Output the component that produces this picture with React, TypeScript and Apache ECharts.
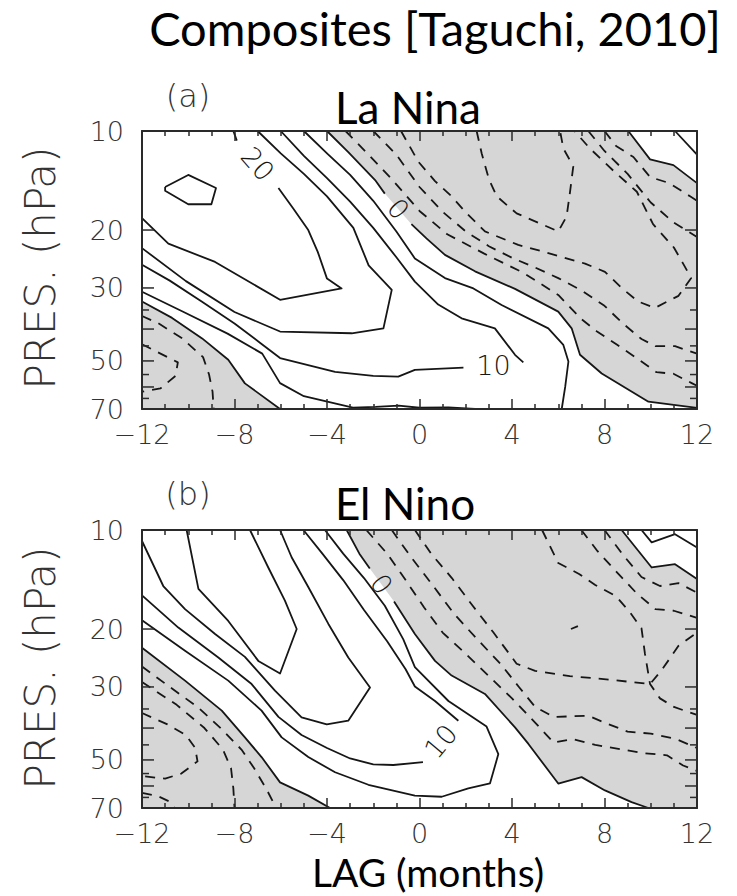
import React, { useEffect, useRef } from "react";
import * as echarts from "echarts";

// Every point is [lag in months, pressure in hPa].
type Pt = [number, number];

const LAG_MIN = -12;
const LAG_MAX = 12;
const LAG_STEP = 4;
const P_TOP = 10;
const P_BOTTOM = 70;

const PRESSURE_LABELS = [10, 20, 30, 50, 70];
const PRESSURE_TICKS_MAJOR = [20, 30, 40, 50, 60];
const PRESSURE_TICKS_MINOR = [35, 45, 55, 65];

// ---------- (a) La Nina: zonal-wind contours, interval 5 m/s ----------
const laNinaW25: Pt[] = [[-11.0, 14.8], [-10.0, 13.6], [-8.8, 14.9], [-9.0, 16.7], [-10.0, 16.7], [-11.0, 15.2], [-11.0, 14.8]];
const laNinaW20Stub: Pt[] = [[-8.05, 10], [-7.9, 10.7]];
const laNinaW20: Pt[] = [[-6.1, 14.9], [-5.46, 17.2], [-4.81, 20.0], [-4.4, 23.3], [-4.0, 28.1], [-3.37, 30.1], [-6.03, 32.6], [-8.84, 25.0], [-10.86, 22.0], [-12, 18.4]];
const laNinaW15: Pt[] = [[-7.0, 10], [-6.0, 11.7], [-5.0, 13.5], [-4.0, 15.8], [-2.86, 19.7], [-2.2, 25.6], [-1.2, 30.4], [-1.56, 39.8], [-2.93, 41.2], [-6.03, 40.7], [-8.0, 35.5], [-10.1, 28.6], [-12, 22.7]];
const laNinaW10Upper: Pt[] = [[-6.0, 10], [-5.0, 11.9], [-4.0, 13.9], [-3.0, 16.4], [-2.0, 19.7], [-1.0, 24.2], [-0.2, 28.7], [0.81, 33.7], [1.82, 37.1], [3.26, 39.8], [4.13, 47.9], [4.49, 50.5]];
const laNinaW10Lower: Pt[] = [[1.9, 52.4], [-0.2, 53.2], [-0.92, 55.8], [-2.0, 55.5], [-3.65, 54.0], [-6.03, 49.0], [-6.9, 44.0], [-8.0, 38.5], [-9.42, 33.0], [-10.8, 28.5], [-12, 25.5]];
const laNinaW5Upper: Pt[] = [[-5.0, 10], [-4.0, 11.7], [-3.0, 13.6], [-2.0, 16.3], [-1.0, 20.2], [-0.2, 24.4], [1.1, 28.0], [2.33, 30.1], [3.55, 33.8], [5.57, 39.8], [6.22, 44.7], [6.44, 50.2], [6.3, 60.0], [6.15, 70]];
const laNinaW5Lower: Pt[] = [[-12, 30.8], [-10.2, 35.5], [-8.3, 41.3], [-6.8, 47.5], [-6.03, 58.4], [-5.0, 64.0], [-2.88, 69.3], [-1.9, 69.0], [-0.9, 68.4], [0.0, 69.4], [1.25, 69.2], [2.4, 70]];
const laNinaW5Corner: Pt[] = [[11.05, 10], [12, 11.8]];
const laNinaZeroUpper: Pt[] = [[-4.0, 10], [-3.08, 11.6], [-1.92, 14.1], [-1.5, 15.5], [-0.35, 19.2], [0.3, 21.2], [1.1, 23.8], [2.4, 26.7], [4.13, 30.2], [6.0, 35.4], [6.58, 39.8], [6.94, 47.9], [7.88, 54.6], [9.9, 66.5], [12, 69.5]];
const laNinaZeroLower: Pt[] = [[-12, 33.0], [-10.7, 37.0], [-9.4, 42.7], [-8.27, 49.6], [-7.55, 58.5], [-6.03, 70]];
const laNinaZeroCorner: Pt[] = [[9.03, 10], [9.97, 12.2], [10.98, 12.7], [12, 14.4]];

const laNinaE5: Pt[] = [[-3.2, 10], [-2.2, 11.8], [-1.2, 14.0], [0.0, 17.5], [1.2, 20.6], [2.8, 23.6], [4.5, 27.0], [6.0, 31.5], [7.0, 37.3], [7.66, 40.6], [8.53, 44.6], [9.39, 49.0], [10.25, 54.1], [10.98, 54.7], [11.77, 58.4], [12, 59.5]];
const laNinaE10: Pt[] = [[-2.0, 10], [-1.0, 11.8], [0, 14.8], [1, 17.6], [2, 20.2], [3, 22.4], [4, 24.3], [5, 26.0], [6, 28.0], [7, 30.5], [8, 34.0], [8.8, 38.5], [9.6, 42.9], [10.2, 45.1], [11.05, 45.1], [12, 47.5]];
const laNinaE15: Pt[] = [[-0.8, 10], [-0.05, 12.4], [0.67, 14.2], [1.39, 15.8], [2.04, 17.8], [2.83, 20.2], [4.27, 22.2], [5.28, 23.2], [7.16, 25.3], [8.02, 26.8], [8.74, 30.0], [9.46, 33.0], [10.18, 34.5], [11.2, 31.7], [11.75, 28.0], [11.4, 25.3], [11.0, 22.6], [10.1, 19.2], [9.4, 15.3], [8.38, 13.2], [7.37, 11.3], [6.7, 10]];
const laNinaE20: Pt[] = [[2.47, 10], [2.69, 11.7], [3.0, 14.0], [3.34, 15.8], [4.2, 17.8], [5.21, 19.1], [6.0, 20.2], [6.36, 18.2], [6.5, 15.5], [6.65, 12.8], [6.22, 11.3], [6.08, 10]];
const laNinaE10Corner: Pt[] = [[7.3, 10], [8.0, 11.5], [9.0, 13.5], [10.0, 16.5], [11, 19.0], [12, 21.0]];
const laNinaE5Corner: Pt[] = [[8.0, 10], [8.5, 11.1], [9.25, 12.0], [9.97, 13.8], [10.8, 14.4], [11.7, 15.8], [12, 16.3]];
const laNinaE5Low: Pt[] = [[-12, 36.5], [-11.3, 38.4], [-10.3, 42.5], [-9.36, 48.7], [-9.1, 55.0], [-8.95, 62.0], [-8.9, 70]];
const laNinaE10Low: Pt[] = [[-12, 44.5], [-11.2, 47.5], [-10.45, 50.5], [-10.55, 55.5], [-11.2, 60.6], [-12, 62.0]];

const laNinaLabels = [
  { text: "20", lag: -7.0, p: 12.6, angle: -49 },
  { text: "0", lag: -0.92, p: 17.25, angle: -49 },
  { text: "10", lag: 3.2, p: 51.5, angle: 0 },
];

// ---------- (b) El Nino ----------
const elNinoW20: Pt[] = [[-10.07, 10], [-9.56, 15.1], [-8.27, 18.9], [-6.97, 25.0], [-6.03, 27.3], [-5.31, 20.0], [-5.82, 16.4], [-6.54, 13.0], [-7.33, 10]];
const elNinoW15: Pt[] = [[-12, 10.8], [-11.08, 14.8], [-10.14, 17.4], [-8.84, 20.7], [-7.55, 24.3], [-6.25, 30.8], [-5.1, 37.1], [-4.01, 39.0], [-3.08, 38.0], [-2.14, 30.1], [-3.08, 24.4], [-3.94, 19.3], [-4.81, 14.9], [-5.53, 12.1], [-6.03, 10]];
const elNinoW10Upper: Pt[] = [[-5.02, 10], [-4.2, 11.8], [-3.3, 14.2], [-2.4, 17.5], [-1.4, 21.8], [-0.6, 26.5], [-0.2, 29.9], [0.67, 33.1], [1.68, 38.0]];
const elNinoW10Lower: Pt[] = [[0.15, 50.8], [-1.13, 51.8], [-2.0, 51.6], [-3.0, 49.5], [-4.0, 46.0], [-5.1, 42.0], [-6.1, 37.0], [-7.26, 29.4], [-8.7, 24.4], [-10.43, 19.8], [-12, 15.8]];
const elNinoW5: Pt[] = [[-4.09, 10], [-3.3, 11.8], [-2.4, 14.0], [-1.5, 17.0], [-0.7, 21.5], [-0.2, 26.1], [1.25, 33.1], [2.9, 39.6], [3.41, 48.0], [3.05, 58.9], [2.11, 61.0], [0.96, 64.7], [-0.2, 64.2], [-2.21, 59.5], [-3.65, 54.5], [-4.81, 49.0], [-5.96, 42.7], [-6.83, 35.4], [-8.27, 28.7], [-10.14, 23.3], [-12, 18.8]];
const elNinoW5Corner: Pt[] = [[9.6, 10], [10.04, 10.9], [11.05, 10.3], [12, 11.3]];
const elNinoZeroUpper: Pt[] = [[-3.15, 10], [-2.6, 11.8], [-2.15, 13.1], [-1.1, 16.5], [-0.2, 20.7], [0.67, 25.0], [1.39, 27.7], [2.83, 31.5], [4.13, 39.8], [4.71, 44.7], [6.0, 59.0], [7.01, 56.4], [8.02, 61.9], [9.17, 67.2], [9.9, 70]];
const elNinoZeroLower: Pt[] = [[-12, 22.8], [-10.14, 28.7], [-8.55, 35.4], [-7.55, 42.7], [-6.83, 49.0], [-6.03, 58.5], [-4.81, 64.2], [-3.87, 70]];
const elNinoZeroCorner: Pt[] = [[8.74, 10], [10.04, 13.0], [11.05, 12.7], [12, 14.1]];

const elNinoE5: Pt[] = [[-2.3, 10], [-1.4, 11.8], [-0.6, 14.2], [0.2, 17.2], [1.0, 20.5], [2.0, 23.8], [3.0, 27.8], [4.0, 32.5], [5.0, 38.5], [5.8, 44.3], [6.6, 43.2], [7.6, 45.0], [8.7, 46.4], [9.6, 47.6], [10.7, 48.4], [11.4, 52.0], [12, 54.0]];
const elNinoE10: Pt[] = [[-1.2, 10], [-0.4, 12.0], [0.5, 14.5], [1.5, 18.0], [2.5, 21.5], [3.5, 25.5], [4.3, 30.0], [5.0, 34.5], [5.8, 37.0], [7.3, 36.7], [8.0, 38.5], [9.0, 41.0], [10.0, 41.6], [11.1, 43.2], [12, 46.0]];
const elNinoE15West: Pt[] = [[-0.2, 10], [0.5, 11.8], [1.4, 14.0], [2.3, 17.0], [3.2, 20.5], [4.2, 25.5], [5.0, 26.8], [6.5, 27.8], [8.2, 28.5], [9.97, 29.4], [10.5, 26.5], [11.2, 22.5], [12, 20.5]];
const elNinoE15East: Pt[] = [[5.3, 10], [6.0, 12.6], [6.9, 13.6], [7.6, 14.7], [8.5, 15.9], [9.1, 17.8], [9.6, 19.9], [9.75, 23.8], [9.97, 29.4], [10.4, 32.5], [11.0, 34.5], [12, 36.5]];
const elNinoE10Corner: Pt[] = [[7.0, 10], [7.7, 11.6], [8.6, 13.6], [9.4, 15.6], [10.2, 17.4], [11.0, 17.6], [12, 18.5]];
const elNinoE5Corner: Pt[] = [[8.0, 10], [8.8, 11.9], [9.6, 13.9], [10.4, 14.8], [11.2, 14.5], [12, 15.5]];
const elNinoE20Spot: Pt[] = [[6.55, 20.0], [6.85, 19.6]];
const elNinoE5Low: Pt[] = [[-12, 26.0], [-10.8, 30.0], [-9.6, 34.5], [-8.6, 40.0], [-7.7, 46.5], [-7.15, 53.0], [-6.6, 61.7], [-6.2, 70]];
const elNinoE10Low: Pt[] = [[-12, 29.0], [-10.5, 34.0], [-9.3, 40.0], [-8.5, 46.5], [-8.15, 53.0], [-8.05, 61.0], [-8.0, 70]];
const elNinoE15Low: Pt[] = [[-12, 36.0], [-10.9, 39.0], [-10.1, 42.0], [-9.7, 46.0], [-9.6, 50.5], [-10.3, 55.0], [-11.0, 57.0], [-12, 56.0]];
const elNinoE10Corner2: Pt[] = [[-12, 63.0], [-11.3, 64.5], [-10.8, 67.0], [-10.6, 70]];

const elNinoLabels = [
  { text: "0", lag: -1.64, p: 14.6, angle: -54 },
  { text: "10", lag: 0.92, p: 43.9, angle: 50 },
];

// Easterly (negative) areas are shaded; their edges are the zero contours.
const laNinaEasterlyMain: Pt[] = [...laNinaZeroUpper, [12, 14.4], ...laNinaZeroCorner.slice(0, -1).reverse()];
const laNinaEasterlyLow: Pt[] = [...laNinaZeroLower, [-12, 70]];
const elNinoEasterlyMain: Pt[] = [...elNinoZeroUpper, [12, 70], [12, 14.1], ...elNinoZeroCorner.slice(0, -1).reverse()];
const elNinoEasterlyLow: Pt[] = [...elNinoZeroLower, [-12, 70]];

const INK = "#161616";
const FRAME = "#2a2a2a";
const SHADE = "#d6d6d6";
const THIN_FONT = "'DejaVu Sans', sans-serif";
const SLIDE_FONT = "Lato, 'Open Sans', sans-serif";

const panels = [
  {
    grid: { left: 142, top: 131, width: 555, height: 278 },
    fills: [laNinaEasterlyMain, laNinaEasterlyLow],
    solid: [
      laNinaW25, laNinaW20Stub, laNinaW20, laNinaW15, laNinaW10Upper, laNinaW10Lower,
      laNinaW5Upper, laNinaW5Lower, laNinaW5Corner,
      laNinaZeroUpper.slice(0, 4), laNinaZeroUpper.slice(4), laNinaZeroLower, laNinaZeroCorner,
    ],
    dashed: [laNinaE5, laNinaE10, laNinaE15, laNinaE20, laNinaE10Corner, laNinaE5Corner, laNinaE5Low, laNinaE10Low],
    labels: laNinaLabels,
  },
  {
    grid: { left: 142, top: 530, width: 555, height: 278 },
    fills: [elNinoEasterlyMain, elNinoEasterlyLow],
    solid: [
      elNinoW20, elNinoW15, elNinoW10Upper, elNinoW10Lower, elNinoW5, elNinoW5Corner,
      elNinoZeroUpper.slice(0, 3), elNinoZeroUpper.slice(3), elNinoZeroLower, elNinoZeroCorner,
    ],
    dashed: [
      elNinoE5, elNinoE10, elNinoE15West, elNinoE15East, elNinoE10Corner, elNinoE5Corner,
      elNinoE20Spot, elNinoE5Low, elNinoE10Low, elNinoE15Low, elNinoE10Corner2,
    ],
    labels: elNinoLabels,
  },
];

const lagLabel = (v: number) => (v < 0 ? "\u2212" + Math.abs(v) : String(v));

function buildOption() {
  const grid: any[] = [];
  const xAxis: any[] = [];
  const yAxis: any[] = [];
  const series: any[] = [];

  panels.forEach((panel, i) => {
    grid.push({ ...panel.grid, containLabel: false });
    const axisLine = { show: true, onZero: false, lineStyle: { color: FRAME, width: 2 } };
    (["bottom", "top"] as const).forEach((position) => {
      xAxis.push({
        type: "value",
        gridIndex: i,
        position,
        min: LAG_MIN,
        max: LAG_MAX,
        interval: LAG_STEP,
        z: 10,
        axisLine,
        axisTick: { show: true, inside: true, length: 10, lineStyle: { color: FRAME, width: 1.5 } },
        minorTick: { show: true, splitNumber: 4, length: 5, lineStyle: { color: FRAME, width: 1.5 } },
        splitLine: { show: false },
        minorSplitLine: { show: false },
        axisLabel: {
          show: position === "bottom",
          margin: 13,
          formatter: lagLabel,
          fontFamily: THIN_FONT,
          fontWeight: 200,
          fontSize: 27,
          lineHeight: 24,
          color: "#333",
        },
      });
    });
    (["left", "right"] as const).forEach((position) => {
      yAxis.push({
        type: "log",
        logBase: 10,
        gridIndex: i,
        position,
        min: P_TOP,
        max: P_BOTTOM,
        inverse: true,
        z: 10,
        axisLine,
        axisTick: { show: false },
        minorTick: { show: false },
        axisLabel: { show: false },
        splitLine: { show: false },
      });
    });

    const xi = i * 2;
    const yi = i * 2;

    panel.fills.forEach((pts) => {
      series.push({
        type: "custom",
        xAxisIndex: xi,
        yAxisIndex: yi,
        data: pts,
        z: 1,
        silent: true,
        renderItem: (params: any, api: any) => {
          if (params.dataIndex !== 0) return null;
          return {
            type: "polygon",
            shape: { points: pts.map((pt) => api.coord(pt)) },
            style: { fill: SHADE },
          };
        },
      });
    });

    const contour = (pts: Pt[], dashed: boolean) => ({
      type: "line",
      xAxisIndex: xi,
      yAxisIndex: yi,
      data: pts,
      symbol: "none",
      showSymbol: false,
      silent: true,
      z: 3,
      lineStyle: { color: INK, width: 1.8, type: dashed ? [10, 8] : "solid", cap: "butt", join: "round" },
    });
    panel.solid.forEach((pts) => series.push(contour(pts, false)));
    panel.dashed.forEach((pts) => series.push(contour(pts, true)));

    series.push({
      type: "custom",
      xAxisIndex: xi,
      yAxisIndex: yi,
      data: panel.labels.map((l) => [l.lag, l.p]),
      z: 5,
      silent: true,
      renderItem: (params: any, api: any) => {
        const l = panel.labels[params.dataIndex];
        const [x, y] = api.coord([l.lag, l.p]);
        return {
          type: "text",
          x,
          y,
          rotation: (l.angle * Math.PI) / 180,
          style: {
            text: l.text,
            fontFamily: THIN_FONT,
            fontWeight: 200,
            fontSize: 27,
            fill: INK,
            align: "center",
            verticalAlign: "middle",
          },
        };
      },
    });

    // Pressure ticks on both sides of the frame, drawn through the log axis.
    const ticks: [number, number][] = [
      ...PRESSURE_TICKS_MAJOR.map((p) => [p, 12] as [number, number]),
      ...PRESSURE_TICKS_MINOR.map((p) => [p, 7] as [number, number]),
    ];
    series.push({
      type: "custom",
      xAxisIndex: xi,
      yAxisIndex: yi,
      data: ticks.map(([p]) => [LAG_MIN, p]),
      z: 10,
      silent: true,
      renderItem: (params: any, api: any) => {
        const [p, len] = ticks[params.dataIndex];
        const l = api.coord([LAG_MIN, p]);
        const r = api.coord([LAG_MAX, p]);
        const style = { stroke: FRAME, lineWidth: 1.5 };
        return {
          type: "group",
          children: [
            { type: "line", shape: { x1: l[0], y1: l[1], x2: l[0] + len, y2: l[1] }, style },
            { type: "line", shape: { x1: r[0] - len, y1: r[1], x2: r[0], y2: r[1] }, style },
          ],
        };
      },
    });

    series.push({
      type: "custom",
      xAxisIndex: xi,
      yAxisIndex: yi,
      data: PRESSURE_LABELS.map((p) => [LAG_MIN, p]),
      z: 10,
      silent: true,
      renderItem: (params: any, api: any) => {
        const p = PRESSURE_LABELS[params.dataIndex];
        const [x, y] = api.coord([LAG_MIN, p]);
        return {
          type: "text",
          x: x - 18,
          y,
          style: {
            text: String(p),
            fontFamily: THIN_FONT,
            fontWeight: 200,
            fontSize: 27,
            fill: "#333",
            align: "right",
            verticalAlign: "middle",
          },
        };
      },
    });
  });

  const slideText = (text: string, x: number, y: number, size: number) => ({
    type: "text",
    x,
    y,
    z: 20,
    style: {
      text,
      fontFamily: SLIDE_FONT,
      fontSize: size,
      lineHeight: size,
      fill: "#000",
      align: "center",
      verticalAlign: "middle",
    },
  });
  const thinText = (text: string, x: number, y: number, size: number, rotation = 0) => ({
    type: "text",
    x,
    y,
    rotation,
    z: 20,
    style: {
      text,
      fontFamily: THIN_FONT,
      fontWeight: 200,
      fontSize: size,
      lineHeight: size,
      fill: "#333",
      align: "center",
      verticalAlign: "middle",
    },
  });

  return {
    animation: false,
    backgroundColor: "#ffffff",
    grid,
    xAxis,
    yAxis,
    series,
    graphic: [
      slideText("Composites [Taguchi, 2010]", 435, 28, 47),
      slideText("La Nina", 408, 107, 44),
      slideText("El Nino", 405, 503, 44),
      slideText("LAG (months)", 428, 872, 39),
      thinText("(a)", 188, 96, 32),
      thinText("(b)", 188, 494, 32),
      thinText("PRES. (hPa)", 40, 268, 42, Math.PI / 2),
      thinText("PRES. (hPa)", 40, 668, 42, Math.PI / 2),
    ],
  };
}

export default function App() {
  const ref = useRef<HTMLDivElement>(null);
  useEffect(() => {
    if (!ref.current) return;
    const chart = echarts.init(ref.current, undefined, { renderer: "svg" });
    chart.setOption(buildOption() as any);
    return () => chart.dispose();
  }, []);
  return (
    <div
      ref={ref}
      style={{ position: "absolute", left: 0, top: 0, width: 737, height: 896, background: "#fff" }}
    />
  );
}
